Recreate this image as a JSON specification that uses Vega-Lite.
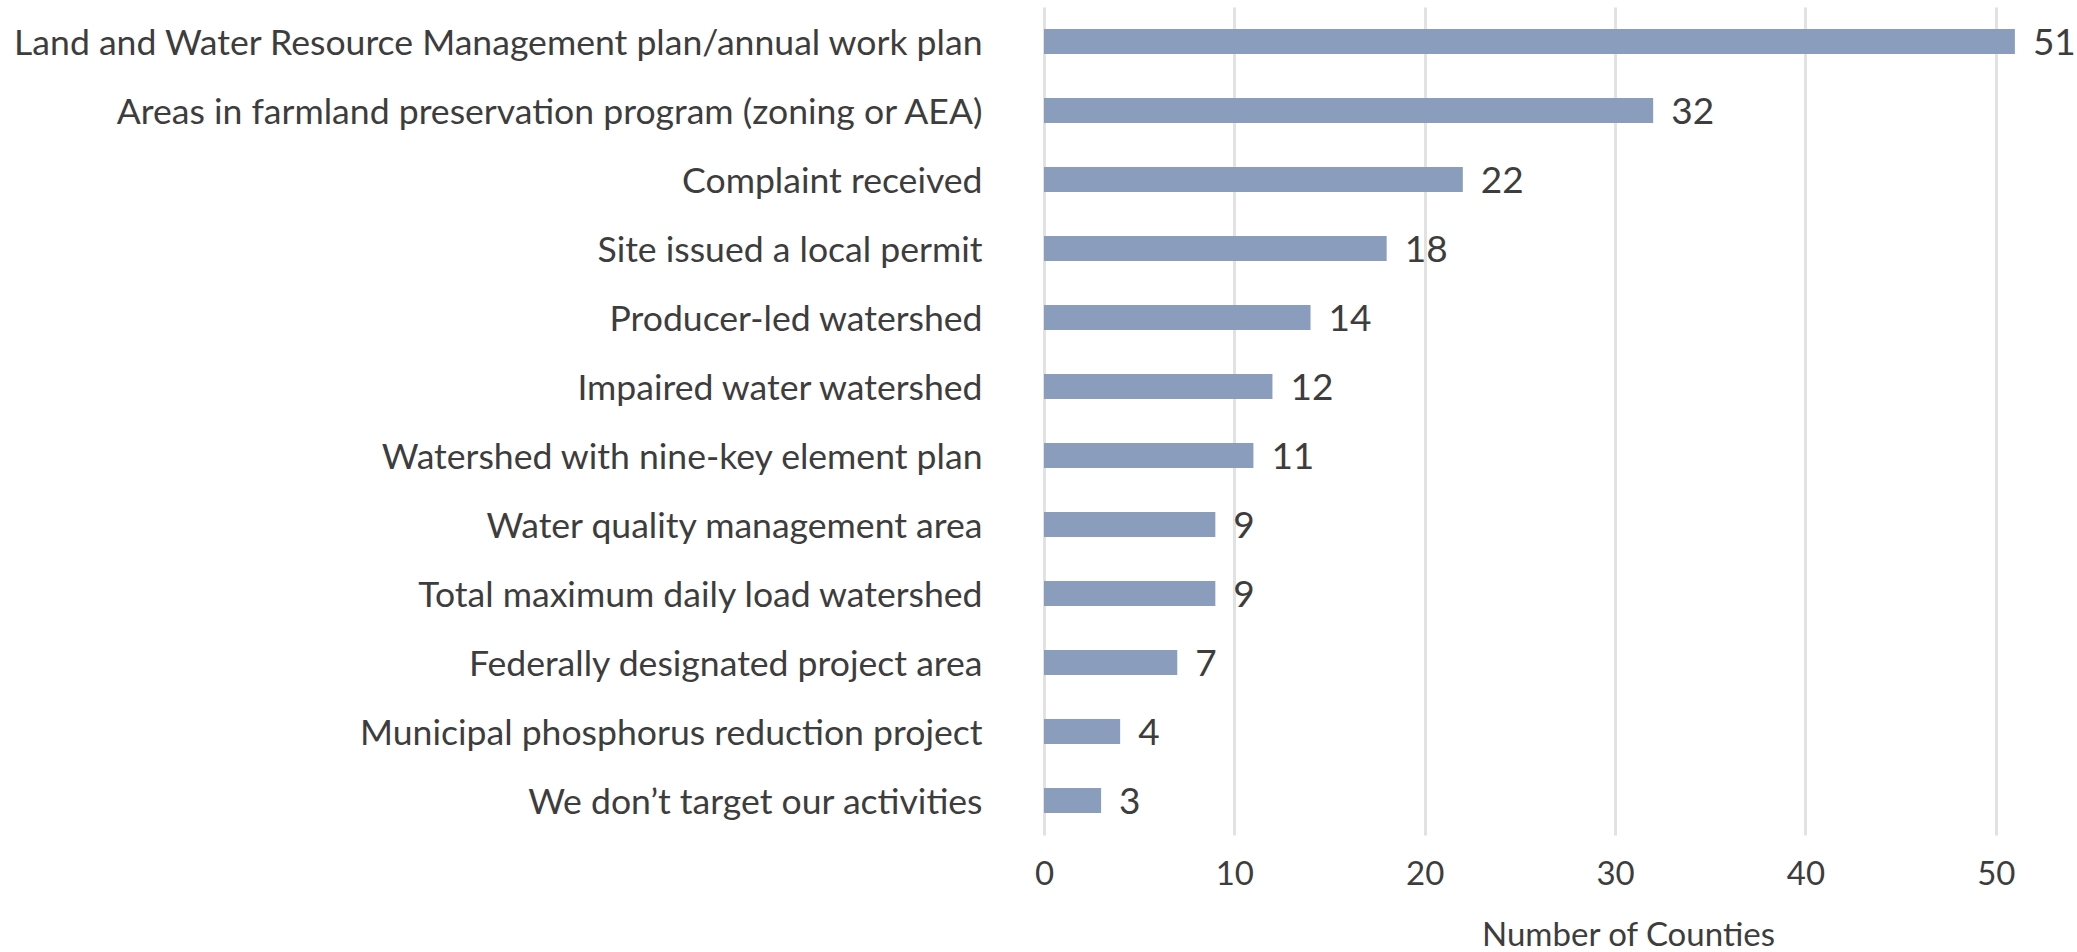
{
  "$schema": "https://vega.github.io/schema/vega-lite/v6.json",
  "autosize": "none",
  "padding": {"left": 1044, "top": 7, "right": 5, "bottom": 117},
  "width": 1028,
  "height": 828,
  "background": "white",
  "config": {"view": {"stroke": null}, "font": "Lato, sans-serif"},
  "data": {"values": [
    {"category": "Land and Water Resource Management plan/annual work plan", "count": 51},
    {"category": "Areas in farmland preservation program (zoning or AEA)", "count": 32},
    {"category": "Complaint received", "count": 22},
    {"category": "Site issued a local permit", "count": 18},
    {"category": "Producer-led watershed", "count": 14},
    {"category": "Impaired water watershed", "count": 12},
    {"category": "Watershed with nine-key element plan", "count": 11},
    {"category": "Water quality management area", "count": 9},
    {"category": "Total maximum daily load watershed", "count": 9},
    {"category": "Federally designated project area", "count": 7},
    {"category": "Municipal phosphorus reduction project", "count": 4},
    {"category": "We don’t target our activities", "count": 3}
  ]},
  "encoding": {
    "y": {
      "field": "category", "type": "nominal", "sort": null,
      "scale": {"paddingInner": 0.64, "paddingOuter": 0.32},
      "axis": {
        "title": null, "domain": false, "ticks": false, "tickSize": 0,
        "labelPadding": 62, "labelFontSize": 35.6, "labelColor": "#3d3d3d",
        "labelBaseline": "alphabetic", "labelOffset": 13, "labelLimit": 1100,
        "labelFont": "Lato, sans-serif"
      }
    },
    "x": {
      "field": "count", "type": "quantitative",
      "scale": {"domain": [0, 54], "nice": false},
      "axis": {
        "title": "Number of Counties", "values": [0, 10, 20, 30, 40, 50],
        "domain": false, "ticks": false, "tickSize": 0, "labelFlush": false,
        "grid": true, "gridColor": "#e2e2e2", "gridWidth": 3,
        "labelFontSize": 33, "labelColor": "#3d3d3d", "labelBaseline": "alphabetic",
        "labelPadding": 49, "labelFont": "Lato, sans-serif",
        "titleFontSize": 33, "titleFontWeight": "normal", "titleColor": "#3d3d3d",
        "titleFont": "Lato, sans-serif",
        "titleX": 584, "titleY": 110, "titleBaseline": "alphabetic", "titleAnchor": null, "titleAlign": "center"
      }
    }
  },
  "layer": [
    {"mark": {"type": "bar", "color": "#8b9dbd"}},
    {"mark": {"type": "text", "align": "left", "baseline": "alphabetic", "dx": 18, "dy": 13, "fontSize": 37, "color": "#3d3d3d", "font": "Lato, sans-serif"},
     "encoding": {"text": {"field": "count", "type": "quantitative"}}}
  ]
}
